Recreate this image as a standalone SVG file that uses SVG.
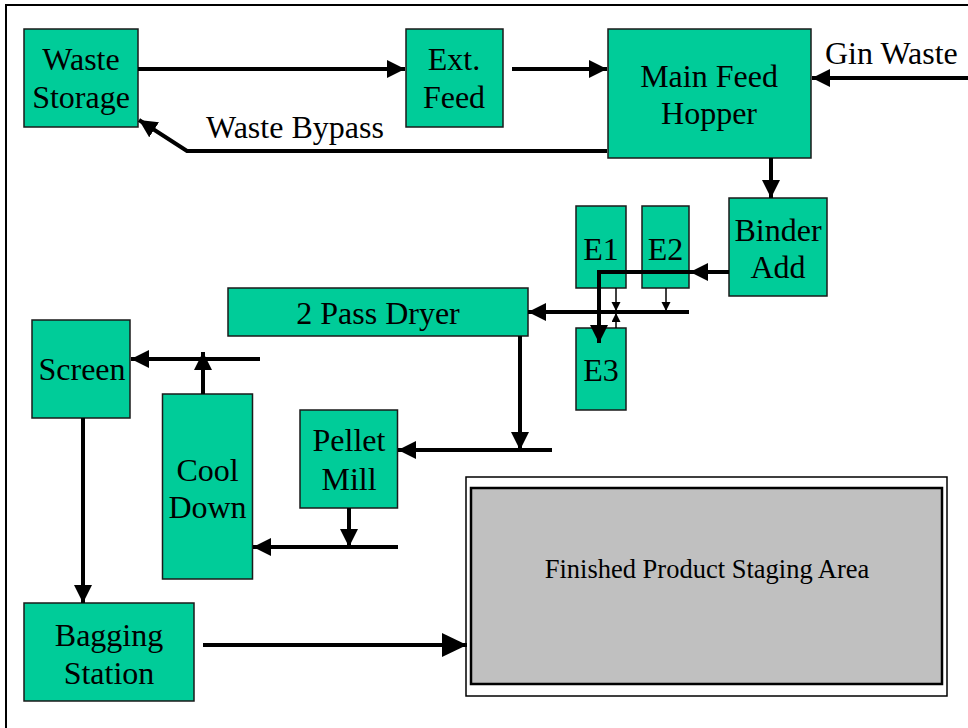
<svg xmlns="http://www.w3.org/2000/svg" width="968" height="728" viewBox="0 0 968 728">
<style>
.box{fill:#00CC99;stroke:#1a1a1a;stroke-width:1.5}
.c{fill:none;stroke:#000;stroke-width:4}
.thin{fill:none;stroke:#000;stroke-width:1.5}
</style>
<defs>
<marker id="ah" markerUnits="userSpaceOnUse" markerWidth="20" markerHeight="18" refX="18" refY="9" orient="auto">
<path d="M0,0 L18,9 L0,18 Z" fill="#000"/>
</marker>
<marker id="ahb" markerUnits="userSpaceOnUse" markerWidth="26" markerHeight="26" refX="25" refY="12" orient="auto">
<path d="M0,0 L25,12 L0,24 Z" fill="#000"/>
</marker>
<marker id="ahs" markerUnits="userSpaceOnUse" markerWidth="10" markerHeight="10" refX="9" refY="4.5" orient="auto">
<path d="M0,0 L9,4.5 L0,9 Z" fill="#000"/>
</marker>
</defs>
<rect x="0" y="0" width="968" height="728" fill="#fff"/>
<rect x="6" y="5" width="980" height="740" fill="none" stroke="#000" stroke-width="2"/>

<g id="staging">
<rect x="466" y="477" width="481" height="219" fill="#fff" stroke="#000" stroke-width="1.5"/>
<rect x="471" y="488" width="471" height="196" fill="#C0C0C0" stroke="#000" stroke-width="2.5"/>
<text x="707" y="578" font-family="Liberation Serif, serif" font-size="26.5" text-anchor="middle">Finished Product Staging Area</text>
</g>

<g font-family="Liberation Serif, serif" font-size="32" text-anchor="middle" fill="#000">
<g id="waste-storage"><rect class="box" x="24" y="29" width="114" height="98"/><text x="81" y="70">Waste</text><text x="81" y="108">Storage</text></g>
<g id="ext-feed"><rect class="box" x="406" y="29" width="97" height="98"/><text x="454" y="70">Ext.</text><text x="454" y="108">Feed</text></g>
<g id="main-feed-hopper"><rect class="box" x="608" y="29" width="203" height="129"/><text x="709" y="87">Main Feed</text><text x="709" y="124">Hopper</text></g>
<g id="gin-waste"><text x="825" y="64" text-anchor="start">Gin Waste</text></g>
<g id="waste-bypass"><text x="206" y="138" text-anchor="start">Waste Bypass</text></g>
<g id="binder-add"><rect class="box" x="729" y="198" width="98" height="98"/><text x="778" y="241">Binder</text><text x="778" y="278">Add</text></g>
<g id="e1"><rect class="box" x="576" y="206" width="50" height="82"/><text x="601" y="260">E1</text></g>
<g id="e2"><rect class="box" x="642" y="206" width="47" height="82"/><text x="665.5" y="260">E2</text></g>
<g id="e3"><rect class="box" x="576" y="328" width="50" height="82"/><text x="601" y="381">E3</text></g>
<g id="dryer"><rect class="box" x="228" y="288" width="300" height="48"/><text x="378" y="324">2 Pass Dryer</text></g>
<g id="screen"><rect class="box" x="32" y="320" width="98" height="98"/><text x="82" y="380">Screen</text></g>
<g id="cool-down"><rect class="box" x="162.5" y="394" width="90" height="185"/><text x="207.5" y="481">Cool</text><text x="207.5" y="518">Down</text></g>
<g id="pellet-mill"><rect class="box" x="300" y="410" width="97.5" height="98"/><text x="349" y="451">Pellet</text><text x="349" y="490">Mill</text></g>
<g id="bagging-station"><rect class="box" x="24" y="603" width="170" height="98"/><text x="109" y="646">Bagging</text><text x="109" y="684">Station</text></g>
</g>

<g id="connectors">
<line class="c" x1="138" y1="69" x2="405" y2="69" marker-end="url(#ah)"/>
<line class="c" x1="512" y1="69" x2="607" y2="69" marker-end="url(#ah)"/>
<line class="c" x1="968" y1="78" x2="812" y2="78" stroke-width="7" marker-end="url(#ah)"/>
<polyline class="c" points="607,151 187,151 139,120" marker-end="url(#ah)"/>
<line class="c" x1="771" y1="158" x2="771" y2="198" stroke-width="5" marker-end="url(#ah)"/>
<line class="c" x1="729" y1="272" x2="690" y2="272" marker-end="url(#ah)"/>
<polyline class="c" points="692,272 599,272 599,343" marker-end="url(#ah)"/>
<line class="c" x1="689" y1="312" x2="528" y2="312" marker-end="url(#ah)"/>
<line class="thin" x1="616" y1="288" x2="616" y2="311" marker-end="url(#ahs)"/>
<line class="thin" x1="616" y1="328" x2="616" y2="313" marker-end="url(#ahs)"/>
<line class="thin" x1="666" y1="288" x2="666" y2="311" marker-end="url(#ahs)"/>
<line class="c" x1="520" y1="336" x2="520" y2="450" marker-end="url(#ah)"/>
<line class="c" x1="552" y1="450" x2="398" y2="450" marker-end="url(#ah)"/>
<line class="c" x1="349" y1="508" x2="349" y2="547" stroke-width="6" marker-end="url(#ah)"/>
<line class="c" x1="398" y1="547" x2="253" y2="547" marker-end="url(#ah)"/>
<line class="c" x1="203" y1="394" x2="203" y2="352" marker-end="url(#ah)"/>
<line class="c" x1="260" y1="359" x2="131" y2="359" marker-end="url(#ah)"/>
<line class="c" x1="83" y1="418" x2="83" y2="603" marker-end="url(#ah)"/>
<line class="c" x1="203" y1="645" x2="467" y2="645" marker-end="url(#ahb)"/>
</g>
</svg>
